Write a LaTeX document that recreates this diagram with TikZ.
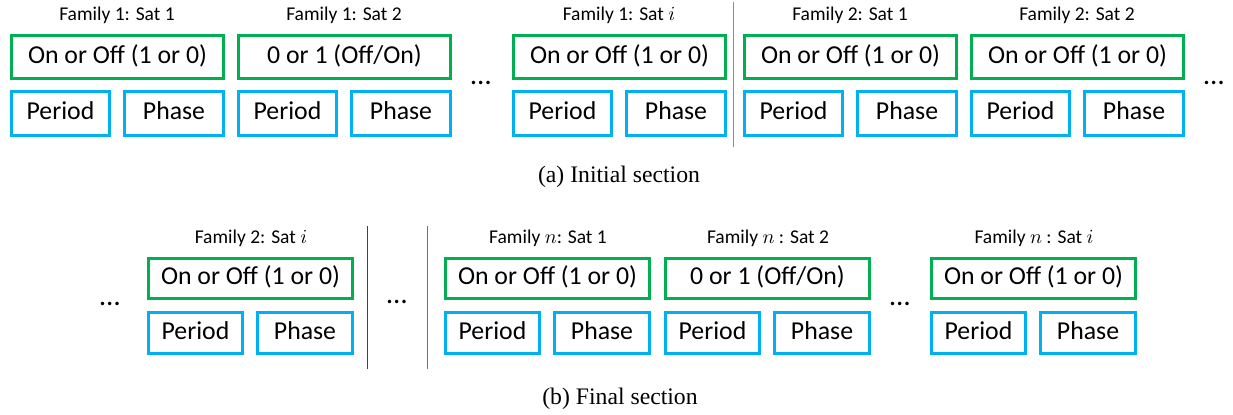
\documentclass[tikz,border=0pt]{standalone}
\usepackage{fontspec}
\setmainfont{Carlito}
\newfontfamily\capfont{Liberation Serif}
\usepackage{tikz}
\usetikzlibrary{positioning}

\definecolor{satgreen}{RGB}{0,176,80}
\definecolor{satblue}{RGB}{0,176,240}

\tikzset{
  bitbox/.style={draw=satgreen, line width=1.5pt, inner sep=0pt,
    text height=0.644em, text depth=0pt, font=\fontsize{12.9}{14}\selectfont},
  parbox/.style={draw=satblue, line width=1.5pt, inner sep=0pt,
    text height=0.644em, text depth=0pt, font=\fontsize{12.9}{14}\selectfont},
  satlabel/.style={anchor=base, inner sep=0pt, font=\fontsize{9.75}{11}\selectfont},
  moredots/.style={inner sep=0pt, font=\fontsize{14.5}{16}\selectfont},
  caption/.style={anchor=base, inner sep=0pt, font=\capfont\fontsize{11.85}{13}\selectfont},
  divider/.style={line width=0.5pt}
}

\begin{document}
\begin{tikzpicture}[x=0.5pt, y=-0.5pt]
  \useasboundingbox (0,0) rectangle (1233,415);
  % (a) Initial section
  \foreach \l/\name/\lab/\top in {
      10/a1/{Family 1: Sat 1}/{On or Off (1 or 0)},
      237/a2/{Family 1: Sat 2}/{0 or 1 (Off/On)},
      512/a3/{Family 1: Sat $i$}/{On or Off (1 or 0)},
      743/a4/{Family 2: Sat 1}/{On or Off (1 or 0)},
      970/a5/{Family 2: Sat 2}/{On or Off (1 or 0)}} {
    \node[bitbox, minimum width=106pt, minimum height=21.5pt] (\name-bit) at ({\l+107.5},57) {\top};
    \node[parbox, minimum width=49pt, minimum height=22pt] (\name-per) at ({\l+50.5},113.5) {Period};
    \node[parbox, minimum width=49.5pt, minimum height=22pt] (\name-pha) at ({\l+164},113.5) {Phase};
    \node[satlabel] (\name-lab) at ({\l+107},21) {\lab};
  }
  \node[moredots] (adots1) at (481,83) {…};
  \node[moredots] (adots2) at (1214,83) {…};
  \draw[divider, black!45] (733,2) -- (733,147);
  \node[caption] (acap) at (619,183) {(a) Initial section};

  % (b) Final section
  \foreach \l/\name/\lab/\top in {
      147/b1/{Family 2: Sat $i$}/{On or Off (1 or 0)},
      444/b2/{Family $n$: Sat 1}/{On or Off (1 or 0)},
      664/b3/{Family $n$ : Sat 2}/{0 or 1 (Off/On)},
      930/b4/{Family $n$ : Sat $i$}/{On or Off (1 or 0)}} {
    \node[bitbox, minimum width=102pt, minimum height=20pt] (\name-bit) at ({\l+103.5},278.5) {\top};
    \node[parbox, minimum width=47pt, minimum height=20.5pt] (\name-per) at ({\l+48.5},333) {Period};
    \node[parbox, minimum width=47.5pt, minimum height=20.5pt] (\name-pha) at ({\l+158},333) {Phase};
    \node[satlabel] (\name-lab) at ({\l+104},244) {\lab};
  }
  \node[moredots] (bdots1) at (110,304) {…};
  \node[moredots] (bdots2) at (397,302) {…};
  \node[moredots] (bdots3) at (900,304) {…};
  \draw[divider, black!75] (367,226) -- (367,369);
  \draw[divider, black!55] (427,226) -- (427,369);
  \node[caption] (bcap) at (620,405) {(b) Final section};
\end{tikzpicture}
\end{document}
